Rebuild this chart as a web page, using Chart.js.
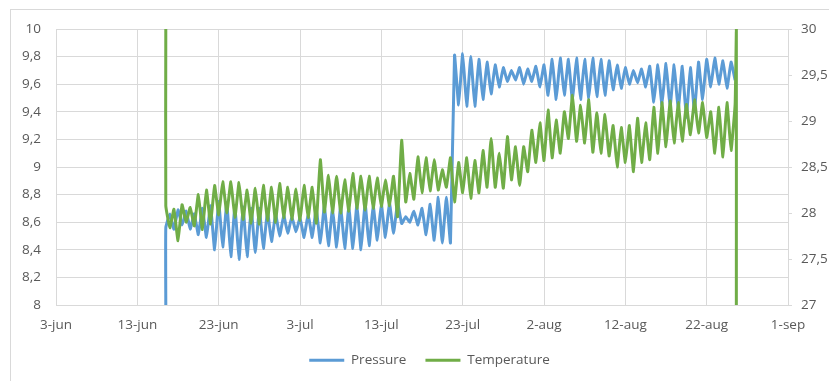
<!DOCTYPE html>
<html>
<head>
<meta charset="utf-8">
<script src="https://cdn.jsdelivr.net/npm/chart.js@4"></script>
<style>
  html, body { margin: 0; padding: 0; background: #ffffff; }
  #wrap { width: 829px; height: 381px; position: relative; overflow: hidden; }
</style>
</head>
<body>
<div id="wrap"><canvas id="chart" width="829" height="381"></canvas></div>
<script>
// Axis labels
const dateLabels = ['3-jun', '13-jun', '23-jun', '3-jul', '13-jul', '23-jul', '2-aug', '12-aug', '22-aug', '1-sep'];
const pressureTickLabels = ['8', '8,2', '8,4', '8,6', '8,8', '9', '9,2', '9,4', '9,6', '9,8', '10'];
const temperatureTickLabels = ['27', '27,5', '28', '28,5', '29', '29,5', '30'];

// Sampling: days counted from 3-jun, one reading every half day
const firstDay = 13.5;
const stepDays = 0.5;

// Pressure readings (13.5 .. 83.5)
const pressure = [
  8.56, 8.66, 8.55, 8.69, 8.58, 8.68, 8.55, 8.66, 8.51, 8.70,
  8.49, 8.72, 8.40, 8.75, 8.42, 8.74, 8.35, 8.72, 8.33, 8.71,
  8.35, 8.70, 8.38, 8.70, 8.41, 8.68, 8.46, 8.66, 8.50, 8.65,
  8.52, 8.64, 8.53, 8.63, 8.49, 8.66, 8.49, 8.70, 8.45, 8.72,
  8.43, 8.70, 8.42, 8.72, 8.41, 8.71, 8.41, 8.73, 8.40, 8.74,
  8.43, 8.72, 8.47, 8.73, 8.49, 8.74, 8.52, 8.74, 8.59, 8.64,
  8.60, 8.68, 8.58, 8.70, 8.51, 8.73, 8.47, 8.78, 8.45, 8.78,
  8.45, 9.81, 9.45, 9.82, 9.44, 9.80, 9.44, 9.78, 9.49, 9.76,
  9.53, 9.74, 9.58, 9.72, 9.62, 9.70, 9.63, 9.72, 9.60, 9.71,
  9.62, 9.73, 9.58, 9.74, 9.52, 9.78, 9.49, 9.79, 9.52, 9.78,
  9.48, 9.79, 9.49, 9.78, 9.50, 9.79, 9.51, 9.78, 9.52, 9.77,
  9.56, 9.74, 9.57, 9.72, 9.60, 9.70, 9.61, 9.71, 9.58, 9.73,
  9.47, 9.74, 9.45, 9.75, 9.43, 9.74, 9.41, 9.73, 9.36, 9.72,
  9.40, 9.76, 9.49, 9.78, 9.58, 9.79, 9.60, 9.77, 9.57, 9.76,
  9.63
];

// Temperature readings (13.5 .. 83.5)
const temperature = [
  28.08, 27.84, 28.04, 27.70, 28.09, 27.90, 28.06, 27.86, 28.20, 27.82,
  28.25, 27.88, 28.30, 27.98, 28.34, 28.00, 28.34, 27.95, 28.33, 27.93,
  28.25, 27.89, 28.27, 27.88, 28.30, 27.92, 28.28, 27.90, 28.32, 27.95,
  28.28, 27.93, 28.26, 27.92, 28.30, 27.95, 28.28, 27.89, 28.58, 28.01,
  28.41, 28.00, 28.40, 28.00, 28.36, 28.02, 28.43, 28.05, 28.40, 28.03,
  28.40, 28.05, 28.38, 28.07, 28.36, 28.08, 28.40, 27.96, 28.79, 28.12,
  28.43, 28.15, 28.61, 28.22, 28.60, 28.24, 28.58, 28.25, 28.47, 28.28,
  28.60, 28.12, 28.55, 28.22, 28.60, 28.16, 28.57, 28.22, 28.68, 28.28,
  28.81, 28.28, 28.65, 28.27, 28.83, 28.36, 28.72, 28.30, 28.72, 28.45,
  28.90, 28.55, 28.98, 28.57, 29.12, 28.60, 29.01, 28.65, 29.10, 28.81,
  29.28, 28.78, 29.17, 28.76, 29.23, 28.66, 29.09, 28.65, 29.07, 28.62,
  28.95, 28.50, 28.93, 28.55, 28.95, 28.45, 29.03, 28.55, 28.98, 28.58,
  29.15, 28.65, 29.20, 28.72, 29.22, 28.76, 29.20, 28.78, 29.18, 28.85,
  29.23, 28.87, 29.20, 28.82, 29.10, 28.65, 29.15, 28.61, 29.20, 28.68,
  29.18
];

// Sensor start-up and removal readings (outside the normal range)
const startSpikeDay = 13.5;
const startSpikePressure = 8.0;
const startSpikeTemperature = 30;
const endSpikeDay = 83.65;
const endSpikeTemperature = [30, 27];

const seriesNames = ['Pressure', 'Temperature'];
const seriesColors = ['#5B9BD5', '#70AD47'];

const sampleDay = i => firstDay + i * stepDays;

const pressurePoints = [{ x: startSpikeDay, y: startSpikePressure }]
  .concat(pressure.map((v, i) => ({ x: sampleDay(i), y: v })));

const temperaturePoints = [{ x: startSpikeDay, y: startSpikeTemperature }]
  .concat(temperature.map((v, i) => ({ x: sampleDay(i), y: v })))
  .concat(endSpikeTemperature.map(v => ({ x: endSpikeDay, y: v })));

const FONT = { family: '"Open Sans", "Noto Sans", sans-serif', size: 13.5 };
const TEXT = '#595959';
const GRID = '#D9D9D9';
const LEGEND_SHIFT = 15;

// Thin frame around the chart, and the legend nudged to the right
const framePlugin = {
  id: 'frame',
  afterLayout(chart) {
    if (chart.legend) {
      chart.legend.left += LEGEND_SHIFT;
      chart.legend.right += LEGEND_SHIFT;
    }
  },
  beforeDraw(chart) {
    const ctx = chart.ctx;
    ctx.save();
    ctx.fillStyle = '#ffffff';
    ctx.fillRect(0, 0, chart.width, chart.height);
    ctx.strokeStyle = GRID;
    ctx.lineWidth = 1;
    ctx.strokeRect(10.5, 9.5, chart.width + 20, chart.height + 20);
    ctx.restore();
  }
};

new Chart(document.getElementById('chart'), {
  type: 'line',
  data: {
    datasets: [
      {
        label: seriesNames[0],
        data: pressurePoints,
        yAxisID: 'y',
        borderColor: seriesColors[0],
        backgroundColor: seriesColors[0],
        borderWidth: 3,
        pointRadius: 0,
        tension: 0.1,
        order: 1
      },
      {
        label: seriesNames[1],
        data: temperaturePoints,
        yAxisID: 'y2',
        borderColor: seriesColors[1],
        backgroundColor: seriesColors[1],
        borderWidth: 3,
        pointRadius: 0,
        tension: 0.1,
        order: 0
      }
    ]
  },
  options: {
    responsive: false,
    animation: false,
    devicePixelRatio: 1,
    layout: { padding: { top: 29, left: 0, right: 0, bottom: 4 } },
    plugins: {
      tooltip: { enabled: false },
      legend: {
        position: 'bottom',
        labels: {
          boxWidth: 35,
          boxHeight: 3,
          padding: 19,
          color: TEXT,
          font: FONT,
          generateLabels: chart => chart.data.datasets.map((ds, i) => ({
            text: ds.label,
            fillStyle: ds.borderColor,
            strokeStyle: ds.borderColor,
            lineWidth: 0,
            fontColor: TEXT,
            hidden: false,
            datasetIndex: i
          }))
        }
      }
    },
    scales: {
      x: {
        type: 'linear',
        min: 0,
        max: 90,
        ticks: {
          stepSize: 10,
          padding: 12,
          color: TEXT,
          font: FONT,
          maxRotation: 0,
          autoSkip: false,
          callback: v => dateLabels[Math.round(v / 10)]
        },
        grid: { color: GRID, drawTicks: false },
        border: { color: GRID },
        afterFit: s => { s.height = 29.5; }
      },
      y: {
        position: 'left',
        min: 8,
        max: 10,
        ticks: {
          stepSize: 0.2,
          padding: 15,
          color: TEXT,
          font: FONT,
          callback: v => pressureTickLabels[Math.round((v - 8) / 0.2)]
        },
        grid: { color: GRID, drawTicks: false },
        border: { display: false },
        afterFit: s => { s.width = 56; }
      },
      y2: {
        position: 'right',
        min: 27,
        max: 30,
        ticks: {
          stepSize: 0.5,
          padding: 9,
          color: TEXT,
          font: FONT,
          callback: v => temperatureTickLabels[Math.round((v - 27) / 0.5)]
        },
        grid: { drawOnChartArea: false, color: GRID, tickLength: 4 },
        border: { color: GRID },
        afterFit: s => { s.width = 41; }
      }
    }
  },
  plugins: [framePlugin]
});
</script>
</body>
</html>
